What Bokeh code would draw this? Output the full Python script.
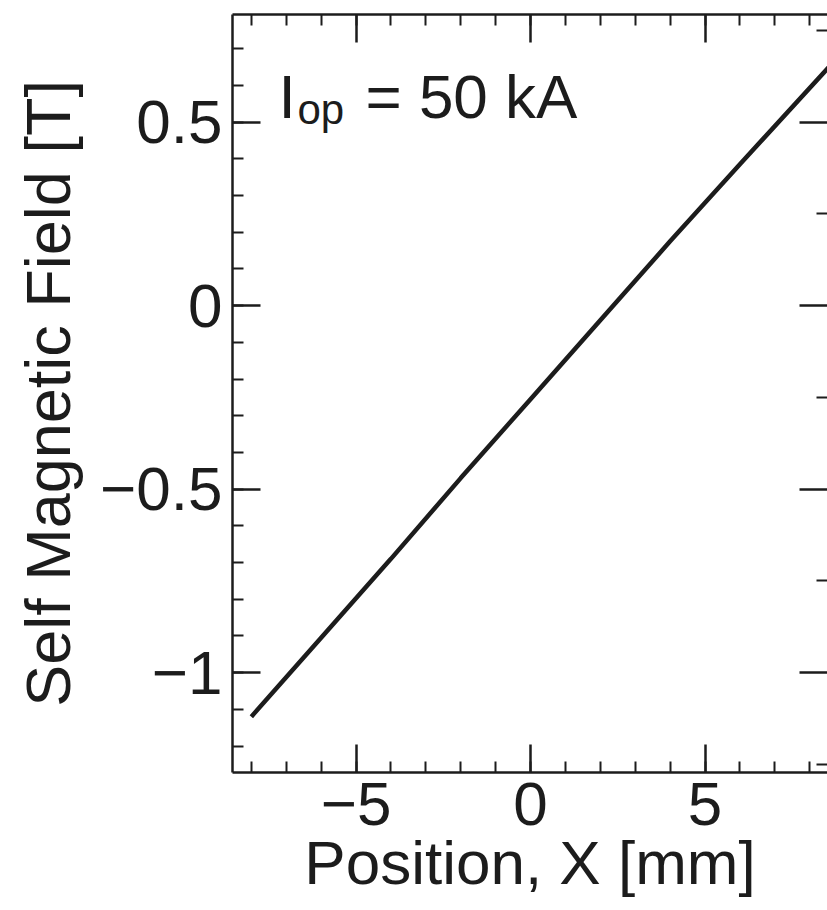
from bokeh.plotting import figure
from bokeh.models import LinearAxis, FixedTicker, Range1d, Label, CustomJSTickFormatter
from bokeh.embed import file_html
from bokeh.resources import INLINE

# Data
position_mm = [-8.0, -6.0, -4.0, -2.0, 0.0, 2.0, 4.0, 6.0, 8.55]
field_T = [-1.12, -0.905, -0.69, -0.47, -0.255, -0.04, 0.175, 0.385, 0.65]

x_major = [-5, 0, 5]
x_minor = list(range(-8, 9))
y_major = [-1, -0.5, 0, 0.5]
y_minor = [round(-1.2 + 0.1 * i, 1) for i in range(20)]
y_minor_right = [-1.25, -0.75, -0.25, 0.25, 0.75]

INK = "#1c1c1c"
FONT = "Liberation Sans"
FS = "62px"

p = figure(width=827, height=910,
           x_range=Range1d(-8.54, 8.51), y_range=Range1d(-1.272, 0.793),
           output_backend="svg", toolbar_location=None,
           x_axis_location=None, y_axis_location=None,
           min_border_left=232, min_border_right=0,
           min_border_top=14, min_border_bottom=138)
p.outline_line_color = None
p.grid.visible = False
p.background_fill_color = "white"
p.border_fill_color = "white"

fmt = CustomJSTickFormatter(code="return tick < 0 ? '\u2212' + (-tick) : '' + tick;")
blank = CustomJSTickFormatter(code="return '';")


def style(ax, major, minor, labels=True, line=True):
    ax.ticker = FixedTicker(ticks=major, minor_ticks=minor)
    ax.major_tick_in = 28
    ax.major_tick_out = 0
    ax.minor_tick_in = 11
    ax.minor_tick_out = 0
    ax.major_tick_line_width = 2.5
    ax.minor_tick_line_width = 2
    ax.major_tick_line_color = INK
    ax.minor_tick_line_color = INK
    ax.axis_line_width = 2.5
    ax.axis_line_color = INK if line else None
    if labels:
        ax.formatter = fmt
        ax.major_label_text_font = FONT
        ax.major_label_text_font_size = FS
        ax.major_label_text_color = INK
        ax.major_label_standoff = 10
    else:
        ax.formatter = blank
        ax.major_label_standoff = 0
    ax.axis_label_text_font = FONT
    ax.axis_label_text_font_size = FS
    ax.axis_label_text_font_style = "normal"
    ax.axis_label_text_color = INK


bottom = LinearAxis(axis_label="Position, X [mm]")
style(bottom, x_major, x_minor)
bottom.axis_label_standoff = 0
p.add_layout(bottom, "below")

top = LinearAxis()
style(top, x_major, x_minor, labels=False)
p.add_layout(top, "above")

left = LinearAxis(axis_label="Self Magnetic Field [T]")
style(left, y_major, y_minor)
left.axis_label_standoff = 14
left.axis_label_text_font_size = "63px"
p.add_layout(left, "left")

right = LinearAxis()
style(right, y_major, y_minor_right, labels=False, line=False)
p.add_layout(right, "right")

p.line(position_mm, field_T, line_color=INK, line_width=4.5)

p.add_layout(Label(x=-7.22, y=0.57, text="I", text_font=FONT, text_font_size=FS,
                   text_color=INK, text_baseline="alphabetic"))
p.add_layout(Label(x=-6.68, y=0.534, text="op", text_font=FONT, text_font_size="42px",
                   text_color=INK, text_baseline="alphabetic"))
p.add_layout(Label(x=-4.73, y=0.57, text="= 50 kA", text_font=FONT, text_font_size=FS,
                   text_color=INK, text_baseline="alphabetic"))

open("out.html", "w").write(file_html(p, INLINE))
